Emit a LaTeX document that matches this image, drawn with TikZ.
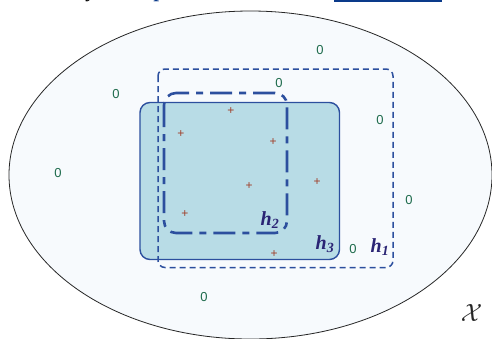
\documentclass[tikz,border=0pt]{standalone}
\usepackage{fontspec}
\setmainfont{Liberation Serif}
\newfontfamily\zerofont{Liberation Sans}
\definecolor{ellfill}{HTML}{F7FAFD}
\definecolor{hthreefill}{HTML}{B8DCE6}
\definecolor{boxblue}{HTML}{2C4F9E}
\definecolor{labcol}{HTML}{2A2474}
\definecolor{zerocol}{HTML}{1E6B4C}
\definecolor{pluscol}{HTML}{A0402A}
\definecolor{barcol}{HTML}{0A3A8A}
\begin{document}
\begin{tikzpicture}[x=1pt,y=-1pt,
  zero/.style={text=zerocol,font=\zerofont\fontsize{13}{13}\selectfont,inner sep=0pt},
  plusmark/.style={text=pluscol,font=\zerofont\fontsize{12}{12}\selectfont,inner sep=0pt},
  hlab/.style={text=labcol,font=\fontsize{20}{20}\selectfont\bfseries\itshape,inner sep=0pt}]
\useasboundingbox (0,0) rectangle (492,338);
\fill[white] (0,0) rectangle (492,338);
\begin{scope}
\clip (0,0) rectangle (492,338);
\draw[fill=ellfill,draw=black!85,line width=0.8pt] (250.5,175) ellipse [x radius=241.5, y radius=164];
\fill[barcol] (334,-2) rectangle (442,2);
\node[anchor=base,inner sep=0pt,font=\fontsize{20}{20}\selectfont\bfseries\itshape] (fragy) at (92,-2.5) {y};
\node[anchor=base,inner sep=0pt,text=barcol,font=\fontsize{20}{20}\selectfont\bfseries\itshape] (fragp) at (160,-2.5) {p};
\end{scope}
% h3 solid box
\draw[fill=hthreefill,draw=boxblue,line width=1.4pt,rounded corners=10pt] (140,102.5) rectangle (339.5,259.5);
% h1 dashed box
\draw[draw=boxblue,line width=1.5pt,dash pattern=on 6pt off 4pt,rounded corners=7pt] (158,69) rectangle (393,267.5);
% h2 dash-dot box
\draw[draw=boxblue,line width=2.6pt,dash pattern=on 22pt off 7pt on 7pt off 7pt,rounded corners=12pt] (164,93) rectangle (287,233);
% zeros
\node[zero] (z1) at (320,50) {0};
\node[zero] (z2) at (279,83) {0};
\node[zero] (z3) at (116,94) {0};
\node[zero] (z4) at (380,120) {0};
\node[zero] (z5) at (58,173) {0};
\node[zero] (z6) at (409,200) {0};
\node[zero] (z7) at (353,249) {0};
\node[zero] (z8) at (204,297) {0};
% pluses
\node[plusmark] (p1) at (231,111) {+};
\node[plusmark] (p2) at (181,134) {+};
\node[plusmark] (p3) at (273,142) {+};
\node[plusmark] (p4) at (317,182) {+};
\node[plusmark] (p5) at (249,186) {+};
\node[plusmark] (p6) at (185,214) {+};
\node[plusmark] (p7) at (274,254) {+};
% labels
\node[hlab] (h1) at (380,247) {h\textsubscript{1}};
\node[hlab] (h2) at (270,220) {h\textsubscript{2}};
\node[hlab] (h3) at (325,244) {h\textsubscript{3}};
\node[inner sep=0pt,text=black!85,font=\fontsize{46}{46}\selectfont] (X) at (471.5,313) {$\mathcal{X}$};
\end{tikzpicture}
\end{document}
